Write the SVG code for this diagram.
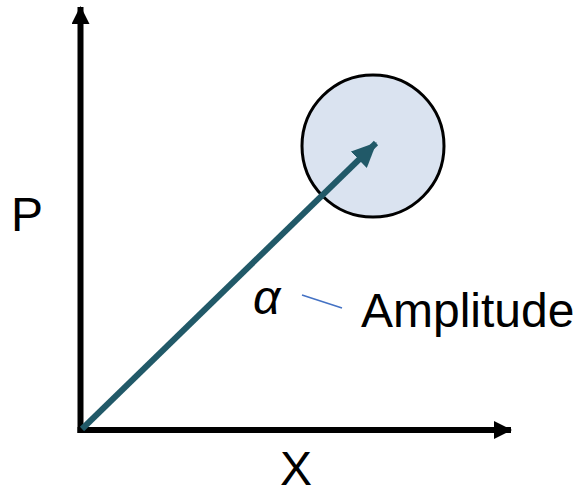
<svg xmlns="http://www.w3.org/2000/svg" width="577" height="490" viewBox="0 0 577 490">
<style>
.lbl{font-family:"Liberation Sans",Arial,sans-serif;fill:#000;font-size:48px}
</style>
<defs>
<marker id="ah" viewBox="0 0 18 18" refX="17" refY="9" markerWidth="18" markerHeight="18" orient="auto" markerUnits="userSpaceOnUse"><path d="M0,0 L18,9 L0,18 Z" fill="#000"/></marker>
<marker id="vh" viewBox="0 0 25 23" refX="24" refY="11.5" markerWidth="25" markerHeight="23" orient="auto" markerUnits="userSpaceOnUse"><path d="M0,0 L25,11.5 L0,23 Z" fill="#215968"/></marker>
</defs>
<g id="circle"><circle cx="373" cy="146" r="71" fill="#dae3f0" stroke="#000" stroke-width="3"/></g>
<g id="connectors">
<line x1="80.5" y1="433" x2="80.5" y2="7" stroke="#000" stroke-width="6" marker-end="url(#ah)"/>
<line x1="77.5" y1="430" x2="511" y2="430" stroke="#000" stroke-width="6" marker-end="url(#ah)"/>
<line x1="82" y1="429" x2="376" y2="143" stroke="#215968" stroke-width="6" marker-end="url(#vh)"/>
<line x1="302" y1="295" x2="342" y2="308" stroke="#4472c4" stroke-width="1.5"/>
</g>
<g id="labels">
<text class="lbl" x="11" y="231">P</text>
<text class="lbl" x="296" y="485" text-anchor="middle">X</text>
<text class="lbl" x="361" y="327">Amplitude</text>
<text class="lbl" x="253" y="314" font-style="italic">α</text>
</g>
</svg>
